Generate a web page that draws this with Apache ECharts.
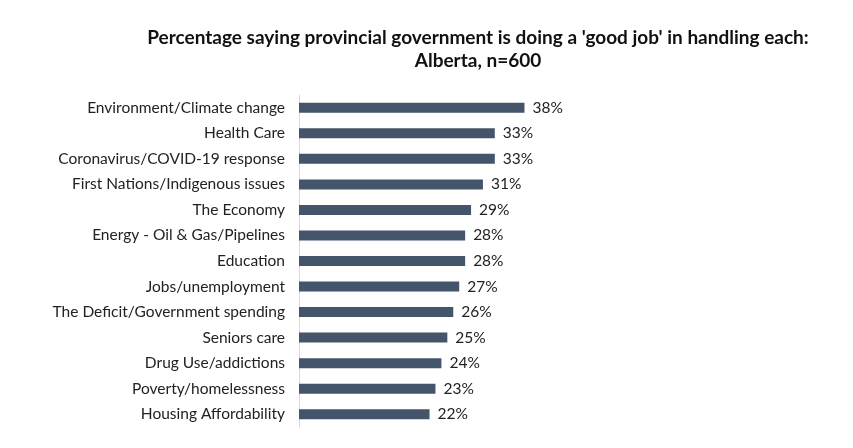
<!DOCTYPE html>
<html><head><meta charset="utf-8">
<script src="https://cdn.jsdelivr.net/npm/echarts@6/dist/echarts.min.js"></script>
<style>html,body{margin:0;padding:0;background:#fff}#c{width:853px;height:448px}</style>
</head><body><div id="c"></div>
<script>
const categories = ["Environment/Climate change","Health Care","Coronavirus/COVID-19 response","First Nations/Indigenous issues","The Economy","Energy - Oil & Gas/Pipelines","Education","Jobs/unemployment","The Deficit/Government spending","Seniors care","Drug Use/addictions","Poverty/homelessness","Housing Affordability"];
const values = [38,33,33,31,29,28,28,27,26,25,24,23,22];
const titleLines = ["Percentage saying provincial government is doing a 'good job' in handling each:","Alberta, n=600"];
const chart = echarts.init(document.getElementById('c'));
const FONT = 'Lato';
chart.setOption({
  animation:false,
  title:{text:titleLines.join('\n'),left:473,textAlign:'center',top:21,
    textStyle:{fontFamily:FONT,fontWeight:'bold',fontSize:19,color:'#111',lineHeight:23}},
  grid:{left:299,top:95,width:356,height:332,containLabel:false},
  xAxis:{type:'value',min:0,max:60,show:false},
  yAxis:{type:'category',inverse:true,data:categories,
    axisLine:{show:true,lineStyle:{color:'#d9d9d9',width:1}},
    axisTick:{show:false},
    axisLabel:{fontFamily:FONT,fontSize:15.5,color:'#222',margin:14}},
  series:[{type:'bar',data:values,barWidth:10,itemStyle:{color:'#44546A'},
    label:{show:true,position:'right',distance:8,formatter:'{c}%',fontFamily:FONT,fontSize:15.5,color:'#222'}}]
});
</script></body></html>
